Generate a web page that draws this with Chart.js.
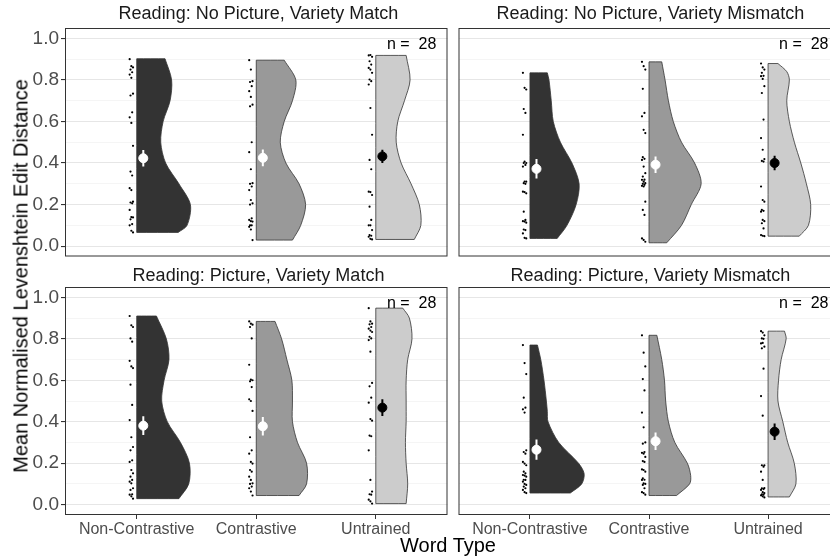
<!DOCTYPE html>
<html>
<head>
<meta charset="utf-8">
<script src="https://cdn.jsdelivr.net/npm/chart.js@4.4.1/dist/chart.umd.min.js"></script>
<style>
  body { margin: 0; width: 830px; height: 556px; overflow: hidden; position: relative; background: #fff;
         font-family: "Liberation Sans", Arial, sans-serif; }
  canvas { position: absolute; }
  .strip { position: absolute; width: 387px; text-align: center; font-size: 18px; color: #1a1a1a; white-space: nowrap; line-height: 20px; }
  .ytitle { position: absolute; left: 21px; top: 276px; transform: translate(-50%, -50%) rotate(-90deg);
            font-size: 20px; white-space: nowrap; color: #000; }
  .xtitle { position: absolute; left: 448px; top: 545px; transform: translate(-50%, -50%);
            font-size: 20px; white-space: nowrap; color: #000; }
</style>
</head>
<body>
<canvas id="p0" width="453" height="262" style="left:0;top:0"></canvas>
<canvas id="p1" width="392" height="262" style="left:453px;top:0"></canvas>
<canvas id="p2" width="453" height="298" style="left:0;top:258px"></canvas>
<canvas id="p3" width="392" height="298" style="left:453px;top:258px"></canvas>
<div class="strip" id="s0" style="left:65px;top:3px"></div>
<div class="strip" id="s1" style="left:457px;top:3px"></div>
<div class="strip" id="s2" style="left:65px;top:265px"></div>
<div class="strip" id="s3" style="left:457px;top:265px"></div>
<div class="ytitle">Mean Normalised Levenshtein Edit Distance</div>
<div class="xtitle">Word Type</div>
<script>
// categories and labels
const wordTypes = ['Non-Contrastive', 'Contrastive', 'Untrained'];
const panelTitles = [
  'Reading: No Picture, Variety Match',
  'Reading: No Picture, Variety Mismatch',
  'Reading: Picture, Variety Match',
  'Reading: Picture, Variety Mismatch'
];
const yMajor = [0, 0.2, 0.4, 0.6, 0.8, 1.0];
const yMinor = [0.1, 0.3, 0.5, 0.7, 0.9];
const nLabel = 'n =  28';

// means (+/- se) per word type
const meanNoPicMatch = [0.423, 0.425, 0.432];
const seNoPicMatch = [0.040, 0.040, 0.032];
const meanNoPicMismatch = [0.372, 0.392, 0.400];
const seNoPicMismatch = [0.047, 0.040, 0.035];
const meanPicMatch = [0.381, 0.378, 0.468];
const sePicMatch = [0.045, 0.045, 0.040];
const meanPicMismatch = [0.265, 0.306, 0.352];
const sePicMismatch = [0.049, 0.042, 0.040];

// individual participant scores
const ptsNoPicMatch = [
  [0.90, 0.866, 0.86, 0.85, 0.837, 0.826, 0.81, 0.734, 0.725, 0.644, 0.62, 0.593, 0.483, 0.359, 0.34, 0.279, 0.27, 0.214, 0.21, 0.206, 0.174, 0.14, 0.138, 0.129, 0.106, 0.10, 0.074, 0.066],
  [0.895, 0.85, 0.794, 0.79, 0.77, 0.746, 0.718, 0.681, 0.673, 0.50, 0.452, 0.37, 0.303, 0.30, 0.287, 0.27, 0.222, 0.206, 0.20, 0.134, 0.126, 0.12, 0.118, 0.10, 0.10, 0.093, 0.08, 0.029],
  [0.918, 0.92, 0.911, 0.89, 0.874, 0.858, 0.85, 0.834, 0.802, 0.794, 0.778, 0.665, 0.536, 0.415, 0.37, 0.262, 0.26, 0.246, 0.19, 0.126, 0.10, 0.10, 0.077, 0.053, 0.05, 0.045, 0.035, 0.032]
];
const ptsNoPicMismatch = [
  [0.834, 0.762, 0.754, 0.66, 0.641, 0.536, 0.407, 0.40, 0.40, 0.391, 0.383, 0.311, 0.31, 0.303, 0.30, 0.262, 0.26, 0.254, 0.166, 0.126, 0.12, 0.118, 0.113, 0.08, 0.077, 0.061, 0.04, 0.037],
  [0.887, 0.866, 0.85, 0.757, 0.641, 0.625, 0.56, 0.544, 0.428, 0.42, 0.415, 0.383, 0.351, 0.335, 0.32, 0.319, 0.31, 0.303, 0.30, 0.295, 0.29, 0.287, 0.214, 0.174, 0.15, 0.037, 0.03, 0.021],
  [0.879, 0.86, 0.85, 0.834, 0.82, 0.818, 0.805, 0.77, 0.737, 0.609, 0.52, 0.464, 0.419, 0.41, 0.407, 0.287, 0.222, 0.214, 0.174, 0.17, 0.166, 0.126, 0.12, 0.11, 0.085, 0.053, 0.05, 0.048]
];
const ptsPicMatch = [
  [0.91, 0.865, 0.857, 0.802, 0.786, 0.694, 0.667, 0.659, 0.579, 0.481, 0.408, 0.325, 0.278, 0.262, 0.214, 0.206, 0.167, 0.151, 0.135, 0.119, 0.111, 0.103, 0.079, 0.071, 0.05, 0.048, 0.04, 0.029],
  [0.884, 0.873, 0.868, 0.857, 0.802, 0.675, 0.603, 0.60, 0.595, 0.567, 0.508, 0.50, 0.452, 0.325, 0.262, 0.246, 0.206, 0.198, 0.167, 0.159, 0.135, 0.119, 0.103, 0.10, 0.087, 0.079, 0.063, 0.044],
  [0.948, 0.884, 0.873, 0.87, 0.857, 0.849, 0.84, 0.833, 0.81, 0.802, 0.794, 0.738, 0.587, 0.571, 0.516, 0.492, 0.413, 0.405, 0.333, 0.33, 0.262, 0.119, 0.063, 0.05, 0.048, 0.024, 0.016, 0.005]
];
const ptsPicMismatch = [
  [0.77, 0.683, 0.63, 0.516, 0.468, 0.46, 0.444, 0.262, 0.254, 0.246, 0.206, 0.198, 0.19, 0.159, 0.151, 0.143, 0.14, 0.135, 0.12, 0.119, 0.111, 0.10, 0.095, 0.087, 0.079, 0.071, 0.06, 0.056],
  [0.817, 0.733, 0.667, 0.606, 0.551, 0.444, 0.373, 0.30, 0.294, 0.254, 0.25, 0.246, 0.23, 0.21, 0.206, 0.17, 0.167, 0.159, 0.127, 0.12, 0.119, 0.103, 0.10, 0.095, 0.079, 0.06, 0.056, 0.048],
  [0.837, 0.83, 0.817, 0.802, 0.80, 0.778, 0.78, 0.762, 0.754, 0.656, 0.524, 0.429, 0.19, 0.19, 0.183, 0.159, 0.119, 0.08, 0.079, 0.075, 0.071, 0.06, 0.056, 0.05, 0.048, 0.045, 0.04, 0.035]
];

// half-violin density: y levels and half widths (x units)
const violinYNoPicMatch = [
  [0.066, 0.1, 0.2, 0.3, 0.4, 0.5, 0.6, 0.7, 0.8, 0.902],
  [0.029, 0.1, 0.2, 0.3, 0.4, 0.5, 0.6, 0.7, 0.8, 0.895],
  [0.032, 0.1, 0.2, 0.3, 0.4, 0.5, 0.6, 0.7, 0.8, 0.918]
];
const violinWNoPicMatch = [
  [0.347, 0.421, 0.449, 0.353, 0.242, 0.201, 0.221, 0.279, 0.292, 0.237],
  [0.303, 0.372, 0.413, 0.358, 0.248, 0.201, 0.234, 0.303, 0.331, 0.234],
  [0.322, 0.377, 0.364, 0.295, 0.212, 0.171, 0.184, 0.240, 0.287, 0.254]
];
const violinYNoPicMismatch = [
  [0.037, 0.1, 0.2, 0.3, 0.4, 0.5, 0.6, 0.7, 0.8, 0.834],
  [0.016, 0.1, 0.2, 0.3, 0.4, 0.5, 0.6, 0.7, 0.8, 0.887],
  [0.048, 0.1, 0.2, 0.3, 0.4, 0.5, 0.6, 0.7, 0.8, 0.84, 0.879]
];
const violinWNoPicMismatch = [
  [0.229, 0.311, 0.388, 0.413, 0.353, 0.256, 0.196, 0.179, 0.160, 0.146],
  [0.149, 0.273, 0.355, 0.438, 0.383, 0.273, 0.204, 0.163, 0.135, 0.107],
  [0.262, 0.339, 0.358, 0.322, 0.275, 0.221, 0.179, 0.157, 0.179, 0.157, 0.083]
];
const violinYPicMatch = [
  [0.029, 0.1, 0.2, 0.3, 0.4, 0.5, 0.6, 0.7, 0.8, 0.91],
  [0.044, 0.1, 0.2, 0.3, 0.4, 0.5, 0.6, 0.7, 0.8, 0.884],
  [0.005, 0.1, 0.2, 0.3, 0.4, 0.5, 0.6, 0.7, 0.8, 0.9, 0.948]
];
const violinWPicMatch = [
  [0.353, 0.435, 0.441, 0.366, 0.256, 0.209, 0.229, 0.270, 0.248, 0.165],
  [0.358, 0.421, 0.421, 0.345, 0.303, 0.303, 0.298, 0.256, 0.212, 0.157],
  [0.254, 0.267, 0.254, 0.248, 0.254, 0.254, 0.254, 0.267, 0.303, 0.281, 0.226]
];
const violinYPicMismatch = [
  [0.056, 0.1, 0.15, 0.2, 0.3, 0.4, 0.45, 0.5, 0.6, 0.7, 0.77],
  [0.044, 0.1, 0.14, 0.2, 0.3, 0.4, 0.5, 0.6, 0.7, 0.817],
  [0.037, 0.1, 0.2, 0.3, 0.4, 0.5, 0.6, 0.7, 0.8, 0.837]
];
const violinWPicMismatch = [
  [0.339, 0.435, 0.455, 0.408, 0.242, 0.152, 0.146, 0.138, 0.118, 0.091, 0.063],
  [0.231, 0.341, 0.350, 0.322, 0.217, 0.163, 0.140, 0.130, 0.107, 0.066],
  [0.179, 0.234, 0.220, 0.165, 0.124, 0.083, 0.088, 0.110, 0.152, 0.138]
];

const panels = [
  { means: meanNoPicMatch, se: seNoPicMatch, pts: ptsNoPicMatch, vy: violinYNoPicMatch, vw: violinWNoPicMatch },
  { means: meanNoPicMismatch, se: seNoPicMismatch, pts: ptsNoPicMismatch, vy: violinYNoPicMismatch, vw: violinWNoPicMismatch },
  { means: meanPicMatch, se: sePicMatch, pts: ptsPicMatch, vy: violinYPicMatch, vw: violinWPicMatch },
  { means: meanPicMismatch, se: sePicMismatch, pts: ptsPicMismatch, vy: violinYPicMismatch, vw: violinWPicMismatch }
];

const fills = ['#333333', '#999999', '#cccccc'];
const meanCols = ['#ffffff', '#ffffff', '#000000'];
const FONT = '"Liberation Sans", Arial, sans-serif';
Chart.defaults.font.family = FONT;

const isMajor = v => yMajor.some(m => Math.abs(m - v) < 1e-6);

// outline of a half violin, corners doubled so the straight edges stay straight
function violinOutline(c, ys, ws) {
  const out = [];
  const n = ys.length;
  out.push({ x: c, y: ys[0] }, { x: c, y: ys[0] });
  out.push({ x: c + ws[0], y: ys[0] }, { x: c + ws[0], y: ys[0] });
  for (let i = 1; i < n - 1; i++) out.push({ x: c + ws[i], y: ys[i] });
  out.push({ x: c + ws[n - 1], y: ys[n - 1] }, { x: c + ws[n - 1], y: ys[n - 1] });
  out.push({ x: c, y: ys[n - 1] }, { x: c, y: ys[n - 1] });
  out.push({ x: c, y: ys[0] }, { x: c, y: ys[0] });
  return out;
}

const panelDecor = {
  id: 'panelDecor',
  afterDatasetsDraw(chart) {
    const { ctx, chartArea: a, scales: { x, y } } = chart;
    ctx.save();
    ctx.font = '16px ' + FONT;
    ctx.fillStyle = '#000';
    ctx.textAlign = 'center';
    ctx.textBaseline = 'middle';
    ctx.fillText(nLabel, x.getPixelForValue(3.3), y.getPixelForValue(0.97));
    ctx.strokeStyle = '#333333';
    ctx.lineWidth = 1;
    ctx.strokeRect(a.left + 0.5, a.top + 0.5, a.width - 1, a.height - 1);
    ctx.restore();
  }
};

// keep tick labels from pushing the plot area around
const noPad = s => { s.paddingTop = 0; s.paddingBottom = 0; s.paddingLeft = 0; s.paddingRight = 0; };

function makePanel(idx) {
  const p = panels[idx];
  const showY = idx % 2 === 0;
  const showX = idx >= 2;
  const datasets = [];
  // Chart.js paints low "order" on top: violins 3, raw points 2, bars 1, means 0
  wordTypes.forEach((wt, g) => {
    const c = g + 1;
    datasets.push({
      order: 3,
      data: violinOutline(c, p.vy[g], p.vw[g]),
      showLine: true, fill: 'shape', tension: 0.3,
      backgroundColor: fills[g], borderColor: '#333333', borderWidth: 0.8,
      pointRadius: 0
    });
    datasets.push({
      order: 2,
      data: p.pts[g].map((v, i) => ({ x: c - 0.045 + (((i * 7) % 5) - 2) * 0.007, y: v })),
      pointRadius: 1.1, backgroundColor: '#000', borderWidth: 0
    });
    datasets.push({
      order: 1,
      data: [{ x: c + 0.055, y: p.means[g] - p.se[g] }, { x: c + 0.055, y: p.means[g] + p.se[g] }],
      showLine: true, borderColor: meanCols[g], borderWidth: 2, pointRadius: 0, fill: false
    });
    datasets.push({
      order: 0,
      data: [{ x: c + 0.055, y: p.means[g] }],
      pointRadius: 4.5, backgroundColor: meanCols[g], borderColor: meanCols[g], borderWidth: 1
    });
  });

  new Chart(document.getElementById('p' + idx), {
    type: 'scatter',
    data: { datasets },
    options: {
      responsive: false,
      animation: false,
      events: [],
      layout: { padding: { left: showY ? 0 : 4, right: 1, top: showX ? 29 : 28, bottom: showX ? 0 : 2 } },
      plugins: { legend: { display: false }, tooltip: { enabled: false }, title: { display: false } },
      scales: {
        x: {
          type: 'linear', min: 0.4, max: 3.6,
          display: showX,
          afterBuildTicks: s => { s.ticks = wordTypes.map((w, i) => ({ value: i + 1 })); },
          afterFit: s => { s.height = showX ? 41 : 0; noPad(s); },
          ticks: { callback: v => wordTypes[v - 1], color: '#4d4d4d', font: { size: 16 }, padding: 1, maxRotation: 0, autoSkip: false },
          grid: { display: true, drawOnChartArea: false, drawTicks: true, tickLength: 4, tickColor: '#333333' },
          border: { display: false }
        },
        y: {
          type: 'linear', min: -0.05, max: 1.05,
          afterBuildTicks: s => { s.ticks = yMajor.concat(yMinor).sort((a, b) => a - b).map(v => ({ value: v })); },
          afterFit: s => { s.width = showY ? 65 : 0; noPad(s); },
          ticks: {
            display: showY,
            callback: v => isMajor(v) ? v.toFixed(1) : '',
            color: '#4d4d4d', font: { size: 19 }, padding: 2, autoSkip: false
          },
          grid: {
            color: c => isMajor(c.tick.value) ? '#e6e6e6' : '#f0f0f0',
            lineWidth: c => isMajor(c.tick.value) ? 1.1 : 0.7,
            drawTicks: showY, tickLength: 4,
            tickColor: c => isMajor(c.tick.value) ? '#333333' : 'rgba(0,0,0,0)'
          },
          border: { display: false }
        }
      }
    },
    plugins: [panelDecor]
  });
  document.getElementById('s' + idx).textContent = panelTitles[idx];
}

[0, 1, 2, 3].forEach(makePanel);
</script>
</body>
</html>
